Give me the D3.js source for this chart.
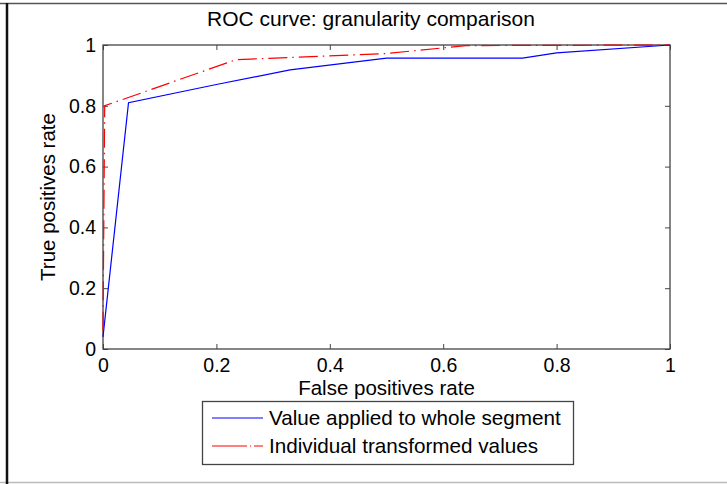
<!DOCTYPE html>
<html>
<head>
<meta charset="utf-8">
<script src="https://cdn.jsdelivr.net/npm/d3@7"></script>
<style>
  body { margin: 0; background: #fff; }
  svg text { font-family: "Liberation Sans", Arial, sans-serif; fill: #000; }
</style>
</head>
<body>
<div id="chart"></div>
<script>
var W = 727, H = 484;

// data
var xTicks = [0, 0.2, 0.4, 0.6, 0.8, 1];
var yTicks = [0, 0.2, 0.4, 0.6, 0.8, 1];
var segmentFpr = [0, 0.045, 0.2, 0.33, 0.5, 0.74, 0.8, 1];
var segmentTpr = [0.04, 0.81, 0.87, 0.918, 0.957, 0.957, 0.974, 1];
var indivFpr = [0, 0.003, 0.235, 0.5, 0.64, 1];
var indivTpr = [0.06, 0.8, 0.952, 0.972, 0.998, 1];
var seriesNames = ["Value applied to whole segment", "Individual transformed values"];

var margin = {left: 103, right: 670, top: 45, bottom: 349};

var svg = d3.select("#chart").append("svg")
	.attr("width", W)
	.attr("height", H);

// outer frame
svg.append("line").attr("x1", 0).attr("x2", W).attr("y1", 3.5).attr("y2", 3.5)
	.attr("stroke", "#555").attr("stroke-width", 1.5);
svg.append("line").attr("x1", 0).attr("x2", W).attr("y1", 482.5).attr("y2", 482.5)
	.attr("stroke", "#bbb").attr("stroke-width", 1.5);
svg.append("line").attr("x1", 7).attr("x2", 7).attr("y1", 3).attr("y2", H)
	.attr("stroke", "#111").attr("stroke-width", 2.5);

var x = d3.scaleLinear().domain([0, 1]).range([margin.left, margin.right]);
var y = d3.scaleLinear().domain([0, 1]).range([margin.bottom, margin.top]);

var fmt = function(d) { return String(d); };

//axes, ticks pointing inward on all four sides
var gx = svg.append("g")
	.attr("transform", "translate(0," + margin.bottom + ")")
	.call(d3.axisBottom(x).tickValues(xTicks).tickSize(-5).tickPadding(9).tickFormat(fmt));
var gxt = svg.append("g")
	.attr("transform", "translate(0," + margin.top + ")")
	.call(d3.axisTop(x).tickValues(xTicks).tickSize(-5).tickFormat(""));
var gy = svg.append("g")
	.attr("transform", "translate(" + margin.left + ",0)")
	.call(d3.axisLeft(y).tickValues(yTicks).tickSize(-5).tickPadding(7).tickFormat(fmt));
var gyr = svg.append("g")
	.attr("transform", "translate(" + margin.right + ",0)")
	.call(d3.axisRight(y).tickValues(yTicks).tickSize(-5).tickFormat(""));

[gx, gxt, gy, gyr].forEach(function(g) {
	g.select(".domain").remove();
	g.selectAll(".tick line").attr("stroke", "#444");
	g.selectAll(".tick text").attr("font-size", "19.5px").attr("font-family", null).attr("fill", "#000");
});

svg.append("rect")
	.attr("x", margin.left).attr("y", margin.top)
	.attr("width", margin.right - margin.left)
	.attr("height", margin.bottom - margin.top)
	.attr("fill", "none")
	.attr("stroke", "#444")
	.attr("stroke-width", 1.3);

var line = d3.line()
	.x(function(d) { return x(d[0]); })
	.y(function(d) { return y(d[1]); });

svg.append("path")
	.datum(d3.zip(segmentFpr, segmentTpr))
	.attr("d", line)
	.attr("fill", "none")
	.attr("stroke", "#0000ff")
	.attr("stroke-width", 1.2);

svg.append("path")
	.datum(d3.zip(indivFpr, indivTpr))
	.attr("d", line)
	.attr("fill", "none")
	.attr("stroke", "#ff0000")
	.attr("stroke-width", 1.2)
	.attr("stroke-dasharray", "19,5,1.5,5");

// title and labels
svg.append("text")
	.attr("x", 371)
	.attr("y", 26)
	.attr("text-anchor", "middle")
	.attr("font-size", "21px")
	.text("ROC curve: granularity comparison");

svg.append("text")
	.attr("x", (margin.left + margin.right) / 2)
	.attr("y", 395)
	.attr("text-anchor", "middle")
	.attr("font-size", "20.5px")
	.text("False positives rate");

svg.append("text")
	.attr("transform", "translate(55," + (margin.top + margin.bottom) / 2 + ") rotate(-90)")
	.attr("text-anchor", "middle")
	.attr("font-size", "20.5px")
	.text("True positives rate");

// legend
var legend = svg.append("g");
legend.append("rect")
	.attr("x", 202.5).attr("y", 401.5)
	.attr("width", 371).attr("height", 63)
	.attr("fill", "#fff")
	.attr("stroke", "#444")
	.attr("stroke-width", 1.3);

var legendY = [418, 446];
var legendColors = ["#0000ff", "#ff0000"];
var legendDash = [null, "35,3,1,3"];

legend.selectAll(".lg-line")
	.data(seriesNames)
	.enter().append("line")
	.attr("class", "lg-line")
	.attr("x1", 212).attr("x2", 263)
	.attr("y1", function(d, i) { return legendY[i]; })
	.attr("y2", function(d, i) { return legendY[i]; })
	.attr("stroke", function(d, i) { return legendColors[i]; })
	.attr("stroke-width", 1.2)
	.attr("stroke-dasharray", function(d, i) { return legendDash[i]; });

legend.selectAll(".lg-text")
	.data(seriesNames)
	.enter().append("text")
	.attr("class", "lg-text")
	.attr("x", 269)
	.attr("y", function(d, i) { return legendY[i] + 7; })
	.attr("font-size", "20.7px")
	.text(function(d) { return d; });
</script>
</body>
</html>
